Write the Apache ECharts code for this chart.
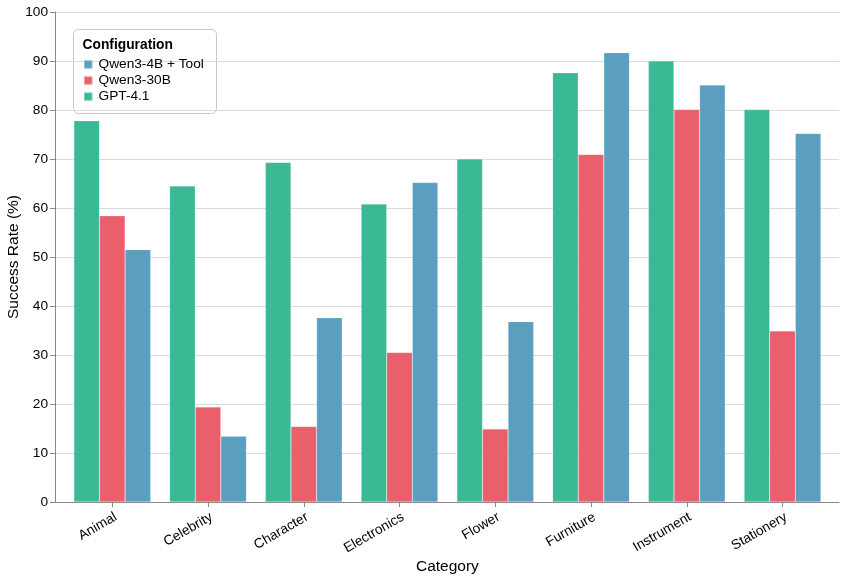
<!DOCTYPE html>
<html>
<head>
<meta charset="utf-8">
<script src="https://cdn.jsdelivr.net/npm/echarts@6/dist/echarts.min.js"></script>
<style>html,body{margin:0;padding:0;background:#fff}#c{width:845px;height:580px}</style>
</head>
<body>
<div id="c"></div>
<script>
const categories = ["Animal","Celebrity","Character","Electronics","Flower","Furniture","Instrument","Stationery"];
const gpt41 = [77.8, 64.5, 69.3, 60.8, 70.0, 87.6, 90.0, 80.1];
const qwen30b = [58.4, 19.4, 15.4, 30.5, 14.9, 70.9, 80.1, 34.9];
const qwen4bTool = [51.5, 13.4, 37.6, 65.2, 36.8, 91.7, 85.1, 75.2];
const yTicks = [0,10,20,30,40,50,60,70,80,90,100];
const legendOrder = ["Qwen3-4B + Tool","Qwen3-30B","GPT-4.1"];

const FONT = "Liberation Sans, Arial, sans-serif";
const chart = echarts.init(document.getElementById('c'), null, {renderer:'canvas'});
const barW = 25.6;
function bar(name, data, color){
  return {type:'bar', name, data, xAxisIndex:1, yAxisIndex:1, barWidth:barW, barGap:'0%',
    itemStyle:{color, borderColor:'rgba(255,255,255,0.35)', borderWidth:0.5}, emphasis:{disabled:true}};
}
chart.setOption({
  animation:false,
  textStyle:{fontFamily:FONT},
  grid:[
    {left:55, right:6, top:12, bottom:78, containLabel:false, outerBoundsMode:'none'},
    {left:64.4, width:766, top:12, bottom:78, containLabel:false, outerBoundsMode:'none'}
  ],
  xAxis:[
    {type:'value', gridIndex:0, min:0, max:1, axisLabel:{show:false}, axisTick:{show:false}, splitLine:{show:false},
     axisLine:{show:true, lineStyle:{color:'#888', width:1}}},
    {type:'category', gridIndex:1, data:categories, axisLine:{show:false},
     axisTick:{show:true, alignWithLabel:true, length:5, lineStyle:{color:'#888'}},
     axisLabel:{rotate:30, fontSize:13.7, color:'#000', fontFamily:FONT, margin:8, verticalAlign:'top'},
     name:'Category', nameLocation:'middle', nameGap:57, nameMoveOverlap:false,
     nameTextStyle:{fontSize:15.5, color:'#000', fontFamily:FONT}}
  ],
  yAxis:[
    {type:'value', gridIndex:0, min:0, max:100, interval:10,
     axisLine:{show:true, lineStyle:{color:'#888'}}, axisTick:{show:true, length:5, lineStyle:{color:'#888'}},
     axisLabel:{fontSize:13.7, color:'#000', fontFamily:FONT, margin:7, formatter:v=>yTicks.includes(v)?String(v):''},
     splitLine:{show:true, lineStyle:{color:'#dcdcdc', width:1}},
     name:'Success Rate (%)', nameLocation:'middle', nameGap:33, nameMoveOverlap:false,
     nameTextStyle:{fontSize:15.5, color:'#000', fontFamily:FONT}},
    {type:'value', gridIndex:1, min:0, max:100, show:false, splitLine:{show:false}}
  ],
  legend:{orient:'vertical', left:78, top:52.4, itemWidth:8.5, itemHeight:8.5, itemGap:2.1,
    icon:'rect', data:legendOrder, textStyle:{fontSize:13.7, color:'#000', fontFamily:FONT, padding:[0,0,0,1]}},
  graphic:[
    {type:'rect', left:73, top:29, shape:{width:143, height:84, r:5}, style:{fill:'#fff', stroke:'#c8c8c8', lineWidth:1}, z:-1},
    {type:'text', left:82.5, top:38.5, style:{text:'Configuration', font:'bold 13.8px '+FONT, fill:'#000'}}
  ],
  series:[
    bar('GPT-4.1', gpt41, '#3bb995'),
    bar('Qwen3-30B', qwen30b, '#e9606c'),
    bar('Qwen3-4B + Tool', qwen4bTool, '#5a9fbf')
  ]
});
</script>
</body>
</html>
